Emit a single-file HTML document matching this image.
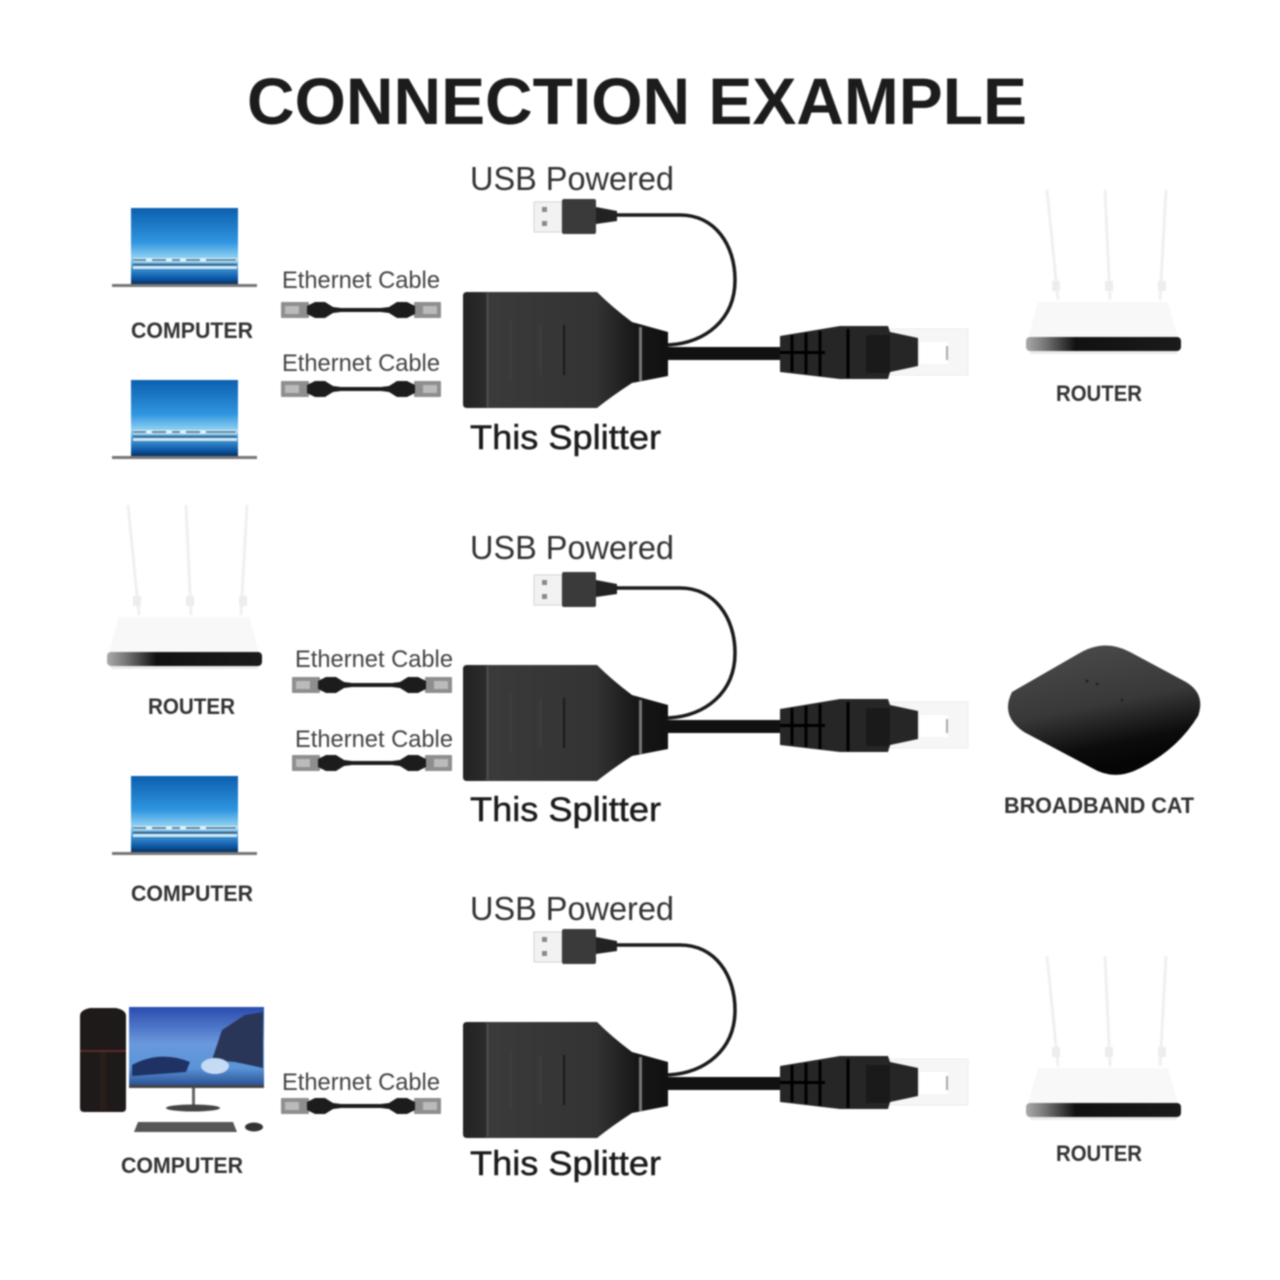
<!DOCTYPE html>
<html><head><meta charset="utf-8"><style>
html,body{margin:0;padding:0;background:#fff;width:1280px;height:1280px;overflow:hidden}
svg{display:block;filter:blur(.85px)}
text{font-family:"Liberation Sans",sans-serif;fill:#2a2a2a}
.t{font-size:66px;font-weight:700;fill:#1c1c1c}
.u{font-size:33px;fill:#333}
.s{font-size:34px;fill:#1c1c1c;stroke:#1c1c1c;stroke-width:.5px}
.e{font-size:24px;fill:#444}
.l{font-size:22px;font-weight:700;fill:#333}
</style></head><body>
<svg width="1280" height="1280" viewBox="0 0 1280 1280" xmlns="http://www.w3.org/2000/svg">
<defs>
<linearGradient id="sky" x1="0" y1="0" x2="0" y2="1"><stop offset="0" stop-color="#0b5fae"/><stop offset=".45" stop-color="#2f95e0"/><stop offset=".66" stop-color="#8fd2f2"/><stop offset=".8" stop-color="#3a8fd0"/><stop offset=".93" stop-color="#0b56a4"/><stop offset="1" stop-color="#08305e"/></linearGradient>
<linearGradient id="bar" x1="0" y1="0" x2="1" y2="0"><stop offset="0" stop-color="#aaa"/><stop offset=".12" stop-color="#777"/><stop offset=".32" stop-color="#111"/><stop offset="1" stop-color="#1a1a1a"/></linearGradient>
<linearGradient id="body" x1="0" y1="0" x2="1" y2="0"><stop offset="0" stop-color="#222"/><stop offset=".1" stop-color="#2a2a2a"/><stop offset=".13" stop-color="#3a3a3a"/><stop offset=".65" stop-color="#333"/><stop offset=".85" stop-color="#161616"/><stop offset="1" stop-color="#111"/></linearGradient>
<linearGradient id="cat" x1="0" y1="0" x2=".3" y2="1"><stop offset="0" stop-color="#4d4d4d"/><stop offset=".55" stop-color="#383838"/><stop offset=".85" stop-color="#0c0c0c"/><stop offset="1" stop-color="#050505"/></linearGradient>
<linearGradient id="mon" x1="0" y1="0" x2="0" y2="1"><stop offset="0" stop-color="#2a4bae"/><stop offset=".45" stop-color="#6a98dc"/><stop offset=".75" stop-color="#5a94d8"/><stop offset="1" stop-color="#24478c"/></linearGradient>

<g id="laptop">
<rect x="131" y="208" width="107" height="76" fill="url(#sky)"/>
<rect x="133" y="258" width="104" height="4" fill="#dff0f8" stroke-dasharray="0"/>
<path d="M133 260H146M152 260H166M172 260H180M186 260H200M206 260H236" stroke="#5b87aa" stroke-width="2"/>
<rect x="133" y="266" width="104" height="3" fill="#cfe8f5"/>
<rect x="133" y="264" width="104" height="1.5" fill="#33587a"/>
<rect x="112" y="284" width="145" height="3" fill="#777"/>
</g>

<g id="cable">
<rect x="0" y="0" width="28" height="16" rx="1" fill="#8e8e8e"/>
<rect x="133" y="0" width="27" height="16" rx="1" fill="#8e8e8e"/>
<rect x="4" y="4" width="14" height="8" fill="#bbb"/>
<rect x="142" y="4" width="14" height="8" fill="#bbb"/>
<path d="M26 4 L34 0 H44 L52 5 L60 6 H100 L108 5 L116 0 H126 L134 4 V12 L126 16 H116 L108 11 L100 10 H60 L52 11 L44 16 H34 L26 12Z" fill="#1c1c1c"/>
</g>

<g id="split">
<!-- usb -->
<rect x="534" y="202" width="28" height="30" fill="#f2f2f2" stroke="#d4d4d4"/>
<rect x="542" y="207" width="5" height="5" fill="#8a8a8a"/>
<rect x="542" y="221" width="5" height="5" fill="#8a8a8a"/>
<rect x="562" y="199" width="34" height="35" rx="2" fill="#3a3a3a"/>
<path d="M596 207 L617 211 V221 L596 224Z" fill="#222"/>
<path d="M616 215 H680 C715 215 735 245 735 280 C735 320 705 343 668 345" fill="none" stroke="#1a1a1a" stroke-width="3.5"/>
<!-- cable -->
<rect x="668" y="347" width="114" height="13" fill="#111"/>
<!-- body -->
<path d="M467 292 H597 Q612 307 632 322 L668 332 V376 L632 383 Q612 396 597 408 H467 Q463 408 463 404 V296 Q463 292 467 292Z" fill="url(#body)"/>
<rect x="639" y="327" width="3" height="54" fill="#777"/>
<rect x="487" y="293" width="1.5" height="114" fill="#555"/>
<rect x="510" y="320" width="1" height="60" fill="#444"/>
<rect x="540" y="325" width="1" height="50" fill="#444"/>
<rect x="563" y="325" width="2" height="50" fill="#1a1a1a"/>
<!-- rj45 -->
<rect x="883" y="329" width="85" height="46" fill="#f6f6f6" stroke="#ececec"/>
<rect x="920" y="342" width="28" height="22" fill="#fff"/>
<rect x="946" y="346" width="2" height="14" fill="#aaa"/>
<path d="M780 336 L840 326 H888 L890 332 L918 338 V366 L890 372 L888 379 H840 L780 372Z" fill="#262626"/>
<g stroke="#000" stroke-width="3"><path d="M792 335V372M806 333V374M820 331V376M848 329V378"/></g>
<rect x="780" y="351" width="45" height="3" fill="#000"/>
<rect x="866" y="335" width="24" height="38" fill="#1a1a1a"/>
</g>

<g id="router">
<path d="M1047 190 L1058 300 M1105 190 L1110 300 M1166 190 L1160 300" stroke="#f0f0f0" stroke-width="3" fill="none"/>
<rect x="1052" y="281" width="8" height="10" fill="#ededed"/>
<rect x="1105" y="281" width="8" height="10" fill="#ededed"/>
<rect x="1158" y="281" width="8" height="10" fill="#ededed"/>
<path d="M1038 302 H1168 L1178 338 H1028Z" fill="#f8f8f8"/>
<rect x="1026" y="337" width="155" height="14" rx="4" fill="url(#bar)"/>
<rect x="1030" y="351" width="147" height="3" fill="#ebebeb"/>
</g>
</defs>

<text class="t" x="247" y="124" textLength="780" lengthAdjust="spacingAndGlyphs">CONNECTION EXAMPLE</text>

<!-- Row 1 -->
<use href="#laptop"/>
<use href="#laptop" y="172"/>
<use href="#cable" x="281" y="302"/>
<use href="#cable" x="281" y="381"/>
<use href="#split"/>
<use href="#router"/>
<text class="e" x="282" y="288" textLength="158" lengthAdjust="spacingAndGlyphs">Ethernet Cable</text>
<text class="e" x="282" y="371" textLength="158" lengthAdjust="spacingAndGlyphs">Ethernet Cable</text>
<text class="l" x="131" y="338" textLength="122" lengthAdjust="spacingAndGlyphs">COMPUTER</text>
<text class="u" x="470" y="190" textLength="204" lengthAdjust="spacingAndGlyphs">USB Powered</text>
<text class="s" x="470" y="449" textLength="191" lengthAdjust="spacingAndGlyphs">This Splitter</text>
<text class="l" x="1056" y="401" textLength="86" lengthAdjust="spacingAndGlyphs">ROUTER</text>

<!-- Row 2 -->
<use href="#router" x="-919" y="315"/>
<use href="#laptop" y="568"/>
<use href="#cable" x="292" y="677"/>
<use href="#cable" x="292" y="755"/>
<use href="#split" y="373"/>
<text class="l" x="148" y="714" textLength="87" lengthAdjust="spacingAndGlyphs">ROUTER</text>
<text class="l" x="131" y="901" textLength="122" lengthAdjust="spacingAndGlyphs">COMPUTER</text>
<text class="e" x="295" y="667" textLength="158" lengthAdjust="spacingAndGlyphs">Ethernet Cable</text>
<text class="e" x="295" y="747" textLength="158" lengthAdjust="spacingAndGlyphs">Ethernet Cable</text>
<text class="u" x="470" y="559" textLength="204" lengthAdjust="spacingAndGlyphs">USB Powered</text>
<text class="s" x="470" y="821" textLength="191" lengthAdjust="spacingAndGlyphs">This Splitter</text>
<path d="M1012 692 L1078 654 Q1104 638 1130 652 L1186 682 Q1206 694 1198 716 Q1176 752 1134 771 Q1112 780 1092 768 L1024 732 Q1000 716 1012 692Z" fill="url(#cat)"/>
<g fill="#222"><circle cx="1087" cy="681" r="1.5"/><circle cx="1097" cy="684" r="1.5"/><circle cx="1122" cy="700" r="1.5"/></g>
<text class="l" x="1004" y="813" textLength="190" lengthAdjust="spacingAndGlyphs">BROADBAND CAT</text>

<!-- Row 3 -->
<path d="M80 1016 Q80 1010 90 1008 H116 Q126 1010 126 1016 V1108 Q126 1112 122 1112 H84 Q80 1112 80 1108Z" fill="#1e1a1a"/>
<rect x="80" y="1050" width="46" height="2" fill="#5a2a2a"/>
<rect x="100" y="1052" width="6" height="58" fill="#2b1c1c"/>
<rect x="129" y="1007" width="135" height="81" fill="url(#mon)"/>
<path d="M212 1060 L222 1030 L245 1015 L263 1012 V1068 L235 1062Z" fill="#2a3658"/>
<path d="M132 1065 Q160 1050 190 1062 L186 1072 L132 1076Z" fill="#1f3264"/>
<ellipse cx="215" cy="1066" rx="14" ry="8" fill="#c4dbf3"/>
<rect x="129" y="1085" width="135" height="3" fill="#444"/>
<rect x="192" y="1088" width="3" height="17" fill="#666"/>
<ellipse cx="193" cy="1108" rx="27" ry="3.5" fill="#444"/>
<path d="M138 1122 H233 L237 1132 H134Z" fill="#555"/>
<ellipse cx="254" cy="1127" rx="9" ry="4.5" fill="#333"/>
<use href="#cable" x="281" y="1098"/>
<use href="#split" y="730"/>
<use href="#router" y="766"/>
<text class="e" x="282" y="1090" textLength="158" lengthAdjust="spacingAndGlyphs">Ethernet Cable</text>
<text class="l" x="121" y="1173" textLength="122" lengthAdjust="spacingAndGlyphs">COMPUTER</text>
<text class="u" x="470" y="920" textLength="204" lengthAdjust="spacingAndGlyphs">USB Powered</text>
<text class="s" x="470" y="1175" textLength="191" lengthAdjust="spacingAndGlyphs">This Splitter</text>
<text class="l" x="1056" y="1161" textLength="86" lengthAdjust="spacingAndGlyphs">ROUTER</text>
</svg>
</body></html>
